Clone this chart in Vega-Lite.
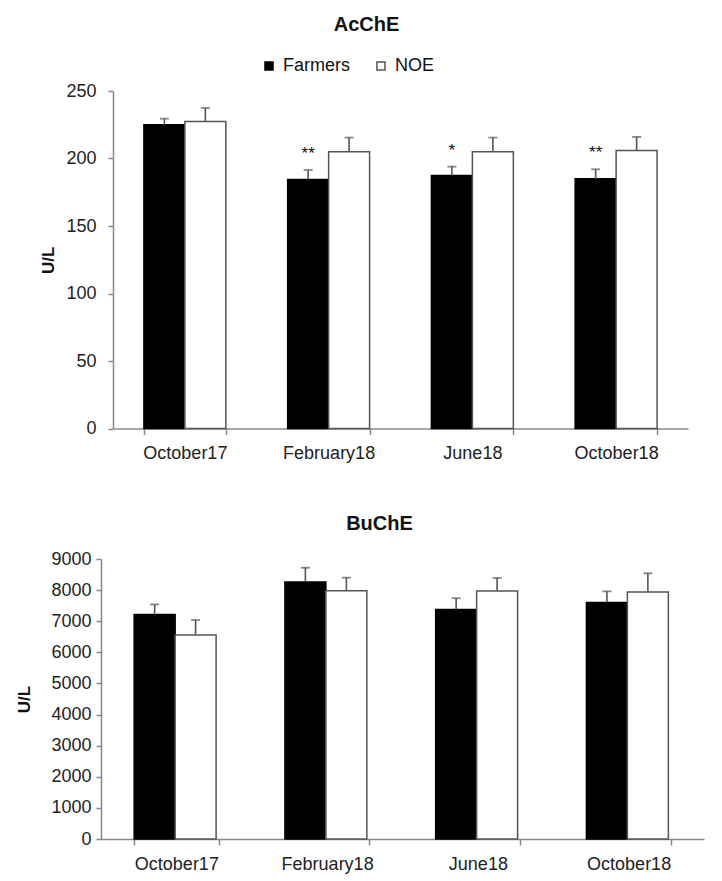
{
  "$schema": "https://vega.github.io/schema/vega-lite/v6.json",
  "padding": {"left": 15, "top": 15, "right": 5, "bottom": 5},
  "background": "white",
  "spacing": 51,
  "resolve": {"scale": {"x": "independent", "y": "independent", "color": "independent", "stroke": "independent"}, "legend": {"color": "independent", "stroke": "independent"}},
  "vconcat": [
    {
      "width": 575,
      "height": 337.5,
      "title": {"text": "AcChE", "font": "Liberation Sans", "fontSize": 20, "fontWeight": "bold", "color": "#111", "dx": -34, "offset": 22},
      "data": {"values": [
        {"date": "October17", "group": "Farmers", "mean": 225, "hi": 229.5, "sig": ""},
        {"date": "October17", "group": "NOE", "mean": 227.5, "hi": 237.5, "sig": ""},
        {"date": "February18", "group": "Farmers", "mean": 184.5, "hi": 191.5, "sig": "**"},
        {"date": "February18", "group": "NOE", "mean": 205, "hi": 215.5, "sig": ""},
        {"date": "June18", "group": "Farmers", "mean": 187.5, "hi": 194, "sig": "*"},
        {"date": "June18", "group": "NOE", "mean": 205, "hi": 215.5, "sig": ""},
        {"date": "October18", "group": "Farmers", "mean": 185, "hi": 192, "sig": "**"},
        {"date": "October18", "group": "NOE", "mean": 206, "hi": 216, "sig": ""}
      ]},
      "encoding": {
        "x": {"field": "date", "type": "nominal", "sort": ["October17", "February18", "June18", "October18"],
              "scale": {"paddingInner": 0.43, "paddingOuter": 0.215},
              "axis": {"title": null, "labelAngle": 0, "tickBand": "extent", "tickSize": 6, "labelPadding": 10}},
        "xOffset": {"field": "group", "type": "nominal", "sort": ["Farmers", "NOE"]}
      },
      "layer": [
        {
          "mark": {"type": "bar", "strokeWidth": 1.5},
          "encoding": {
            "y": {"field": "mean", "type": "quantitative", "scale": {"domain": [0, 250], "nice": false},
                  "axis": {"title": "U/L", "values": [0, 50, 100, 150, 200, 250], "labelOverlap": false, "tickSize": 5, "labelPadding": 12, "minExtent": 97, "titleX": -56}},
            "color": {"field": "group", "type": "nominal", "sort": ["Farmers", "NOE"], "scale": {"domain": ["Farmers", "NOE"], "range": ["#000000", "#ffffff"]},
                      "legend": {"title": null, "orient": "none", "legendX": 147, "legendY": -34, "direction": "horizontal", "symbolType": "square", "symbolSize": 65, "symbolStrokeWidth": 1.5, "labelFont": "Liberation Sans", "labelFontSize": 18, "labelColor": "#111", "columnPadding": 22, "labelOffset": 5}},
            "stroke": {"field": "group", "type": "nominal", "sort": ["Farmers", "NOE"], "scale": {"domain": ["Farmers", "NOE"], "range": ["#000000", "#555555"]},
                       "legend": {"title": null, "orient": "none", "legendX": 147, "legendY": -34, "direction": "horizontal", "symbolType": "square", "symbolSize": 65, "symbolStrokeWidth": 1.5, "labelFont": "Liberation Sans", "labelFontSize": 18, "labelColor": "#111", "columnPadding": 22, "labelOffset": 5}}
          }
        },
        {
          "mark": {"type": "rule", "color": "#555555", "strokeWidth": 1.6},
          "encoding": {"y": {"field": "mean", "type": "quantitative",
                  "axis": {"title": "U/L", "values": [0, 50, 100, 150, 200, 250], "labelOverlap": false, "tickSize": 5, "labelPadding": 12, "minExtent": 97, "titleX": -56}}, "y2": {"field": "hi"}}
        },
        {
          "mark": {"type": "tick", "color": "#555555", "size": 9, "thickness": 1.8},
          "encoding": {"y": {"field": "hi", "type": "quantitative",
                  "axis": {"title": "U/L", "values": [0, 50, 100, 150, 200, 250], "labelOverlap": false, "tickSize": 5, "labelPadding": 12, "minExtent": 97, "titleX": -56}}}
        },
        {
          "mark": {"type": "text", "font": "Liberation Sans", "fontSize": 17, "color": "#111", "dy": -16, "baseline": "middle"},
          "encoding": {"y": {"field": "hi", "type": "quantitative",
                  "axis": {"title": "U/L", "values": [0, 50, 100, 150, 200, 250], "labelOverlap": false, "tickSize": 5, "labelPadding": 12, "minExtent": 97, "titleX": -56}}, "text": {"field": "sig"}}
        }
      ]
    },
    {
      "width": 591,
      "height": 280,
      "title": {"text": "BuChE", "font": "Liberation Sans", "fontSize": 20, "fontWeight": "bold", "color": "#111", "dx": -29, "offset": 16},
      "data": {"values": [
        {"date": "October17", "group": "Farmers", "mean": 7220, "hi": 7540},
        {"date": "October17", "group": "NOE", "mean": 6560, "hi": 7040},
        {"date": "February18", "group": "Farmers", "mean": 8260, "hi": 8720},
        {"date": "February18", "group": "NOE", "mean": 7980, "hi": 8400},
        {"date": "June18", "group": "Farmers", "mean": 7380, "hi": 7740},
        {"date": "June18", "group": "NOE", "mean": 7970, "hi": 8390},
        {"date": "October18", "group": "Farmers", "mean": 7600, "hi": 7960},
        {"date": "October18", "group": "NOE", "mean": 7940, "hi": 8540}
      ]},
      "encoding": {
        "x": {"field": "date", "type": "nominal", "sort": ["October17", "February18", "June18", "October18"],
              "scale": {"paddingInner": 0.44, "paddingOuter": 0.22, "range": [-12, 591]},
              "axis": {"title": null, "labelAngle": 0, "tickBand": "extent", "tickSize": 6, "labelPadding": 10}},
        "xOffset": {"field": "group", "type": "nominal", "sort": ["Farmers", "NOE"]}
      },
      "layer": [
        {
          "mark": {"type": "bar", "strokeWidth": 1.5},
          "encoding": {
            "y": {"field": "mean", "type": "quantitative", "scale": {"domain": [0, 9000], "nice": false},
                  "axis": {"title": "U/L", "values": [0, 1000, 2000, 3000, 4000, 5000, 6000, 7000, 8000, 9000], "format": "d", "labelOverlap": false, "tickSize": 5, "labelPadding": 5, "titleX": -68, "offset": 12}},
            "color": {"field": "group", "type": "nominal", "scale": {"domain": ["Farmers", "NOE"], "range": ["#000000", "#ffffff"]}, "legend": null},
            "stroke": {"field": "group", "type": "nominal", "scale": {"domain": ["Farmers", "NOE"], "range": ["#000000", "#555555"]}, "legend": null}
          }
        },
        {
          "mark": {"type": "rule", "color": "#555555", "strokeWidth": 1.6},
          "encoding": {"y": {"field": "mean", "type": "quantitative",
                  "axis": {"title": "U/L", "values": [0, 1000, 2000, 3000, 4000, 5000, 6000, 7000, 8000, 9000], "format": "d", "labelOverlap": false, "tickSize": 5, "labelPadding": 5, "titleX": -68, "offset": 12}}, "y2": {"field": "hi"}}
        },
        {
          "mark": {"type": "tick", "color": "#555555", "size": 9, "thickness": 1.8},
          "encoding": {"y": {"field": "hi", "type": "quantitative",
                  "axis": {"title": "U/L", "values": [0, 1000, 2000, 3000, 4000, 5000, 6000, 7000, 8000, 9000], "format": "d", "labelOverlap": false, "tickSize": 5, "labelPadding": 5, "titleX": -68, "offset": 12}}}
        }
      ]
    }
  ],
  "config": {
    "view": {"stroke": null},
    "axis": {"grid": false, "domainColor": "#888888", "tickColor": "#888888", "domainWidth": 1.5, "tickWidth": 1.5,
             "labelFont": "Liberation Sans", "labelFontSize": 18, "labelColor": "#222222",
             "titleFont": "Liberation Sans", "titleFontSize": 17, "titleFontWeight": "bold", "titleColor": "#111111"}
  }
}
